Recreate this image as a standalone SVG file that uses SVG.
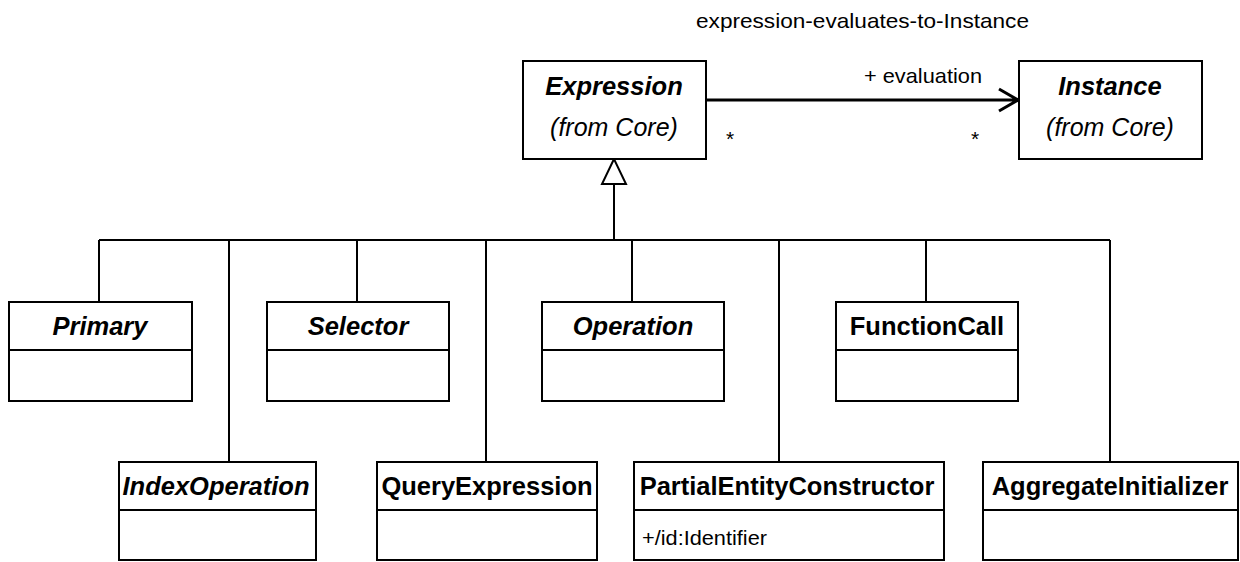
<svg xmlns="http://www.w3.org/2000/svg" width="1240" height="562" viewBox="0 0 1240 562">
<style>
.box{fill:#fff;stroke:#000;stroke-width:2}
.div{stroke:#000;stroke-width:2}
.conn{fill:none;stroke:#000;stroke-width:2}
.assoc{fill:none;stroke:#000;stroke-width:3}
.h{font-family:"Liberation Sans",Arial,sans-serif;font-size:25.5px;font-weight:bold;text-anchor:middle;fill:#000}
.hi{font-style:italic}
.sub{font-family:"Liberation Sans",Arial,sans-serif;font-size:25px;font-style:italic;text-anchor:middle;fill:#000}
.t{font-family:"Liberation Sans",Arial,sans-serif;font-size:21px;fill:#000}
</style>
<rect width="1240" height="562" fill="#fff"/>
<text class="t" x="696" y="28" textLength="333" lengthAdjust="spacingAndGlyphs">expression-evaluates-to-Instance</text>
<g id="connectors">
  <path class="assoc" d="M706 100 H1018 M999 89 L1018 100 L999 111"/>
  <text class="t" x="864" y="83" textLength="118" lengthAdjust="spacingAndGlyphs">+ evaluation</text>
  <text class="t" x="730" y="146" text-anchor="middle">*</text>
  <text class="t" x="975" y="146" text-anchor="middle">*</text>
  <path class="conn" d="M614 184 V240 M99 240 H1110 M99 240 V302 M357 240 V302 M632 240 V302 M926 240 V302 M229 240 V462 M486 240 V462 M779 240 V462 M1110 240 V462"/>
  <polygon points="614,159 602,184 626,184" fill="#fff" stroke="#000" stroke-width="2"/>
</g>
<g id="Expression">
  <rect class="box" x="523" y="61" width="183" height="98"/>
  <text class="h hi" x="614" y="95">Expression</text>
  <text class="sub" x="614" y="136">(from Core)</text>
</g>
<g id="Instance">
  <rect class="box" x="1019" y="61" width="183" height="98"/>
  <text class="h hi" x="1110" y="95">Instance</text>
  <text class="sub" x="1110" y="136">(from Core)</text>
</g>
<g id="Primary">
  <rect class="box" x="9" y="302" width="183" height="99"/>
  <line class="div" x1="9" y1="350" x2="192" y2="350"/>
  <text class="h hi" x="100" y="335">Primary</text>
</g>
<g id="Selector">
  <rect class="box" x="267" y="302" width="182" height="99"/>
  <line class="div" x1="267" y1="350" x2="449" y2="350"/>
  <text class="h hi" x="358" y="335">Selector</text>
</g>
<g id="Operation">
  <rect class="box" x="542" y="302" width="182" height="99"/>
  <line class="div" x1="542" y1="350" x2="724" y2="350"/>
  <text class="h hi" x="633" y="335">Operation</text>
</g>
<g id="FunctionCall">
  <rect class="box" x="836" y="302" width="182" height="99"/>
  <line class="div" x1="836" y1="350" x2="1018" y2="350"/>
  <text class="h" x="927" y="335">FunctionCall</text>
</g>
<g id="IndexOperation">
  <rect class="box" x="119" y="462" width="197" height="98"/>
  <line class="div" x1="119" y1="510" x2="316" y2="510"/>
  <text class="h hi" x="216" y="495">IndexOperation</text>
</g>
<g id="QueryExpression">
  <rect class="box" x="377" y="462" width="220" height="98"/>
  <line class="div" x1="377" y1="510" x2="597" y2="510"/>
  <text class="h" x="487" y="495">QueryExpression</text>
</g>
<g id="PartialEntityConstructor">
  <rect class="box" x="634" y="462" width="310" height="98"/>
  <line class="div" x1="634" y1="510" x2="944" y2="510"/>
  <text class="h" x="787" y="495">PartialEntityConstructor</text>
  <text class="t" x="642" y="545" textLength="125" lengthAdjust="spacingAndGlyphs">+/id:Identifier</text>
</g>
<g id="AggregateInitializer">
  <rect class="box" x="983" y="462" width="255" height="98"/>
  <line class="div" x1="983" y1="510" x2="1238" y2="510"/>
  <text class="h" x="1110" y="495">AggregateInitializer</text>
</g>
</svg>
